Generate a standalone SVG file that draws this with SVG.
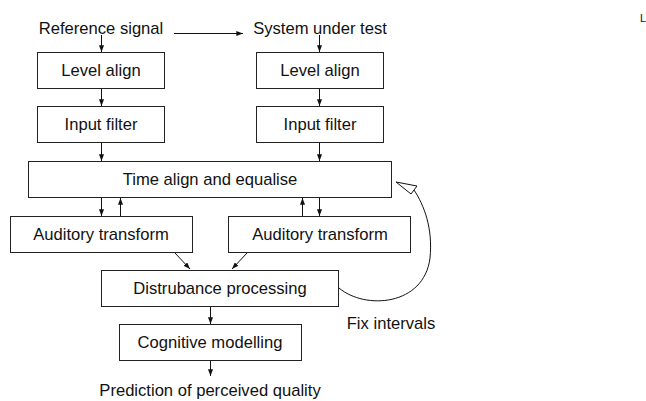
<svg xmlns="http://www.w3.org/2000/svg" width="646" height="401" viewBox="0 0 646 401">
  <style>
    text { font-family: "Liberation Sans", Arial, Helvetica, sans-serif; font-size: 16.6px; fill: #111; text-anchor: middle; }
    .box rect { fill: #fff; stroke: #222; stroke-width: 1; }
    .conn line, .conn path { stroke: #111; stroke-width: 1; fill: none; }
    .conn line { marker-end: url(#tip); }
  </style>
  <defs>
    <marker id="tip" viewBox="0 0 8 6" refX="8" refY="3" markerWidth="7" markerHeight="5" markerUnits="userSpaceOnUse" orient="auto">
      <path d="M0,0 L8,3 L0,6 Z" fill="#111"/>
    </marker>
  </defs>

  <rect width="646" height="401" fill="#fff"/>

  <!-- inputs -->
  <g id="ref-signal"><text x="101" y="34">Reference signal</text></g>
  <g id="sut"><text x="320" y="34">System under test</text></g>

  <!-- left chain -->
  <g id="level-align-ref" class="box"><rect x="37.5" y="52.5" width="127" height="36"/><text x="101" y="76">Level align</text></g>
  <g id="input-filter-ref" class="box"><rect x="37.5" y="106.5" width="127" height="36"/><text x="101" y="130">Input filter</text></g>

  <!-- right chain -->
  <g id="level-align-sut" class="box"><rect x="256.5" y="52.5" width="127" height="36"/><text x="320" y="76">Level align</text></g>
  <g id="input-filter-sut" class="box"><rect x="256.5" y="106.5" width="127" height="36"/><text x="320" y="130">Input filter</text></g>

  <g id="time-align" class="box"><rect x="28.5" y="161.5" width="363" height="36"/><text x="210" y="185">Time align and equalise</text></g>

  <g id="auditory-ref" class="box"><rect x="10.5" y="216.5" width="182" height="36"/><text x="101" y="240">Auditory transform</text></g>
  <g id="auditory-sut" class="box"><rect x="228.5" y="216.5" width="182" height="36"/><text x="320" y="240">Auditory transform</text></g>

  <g id="disturbance" class="box"><rect x="101.5" y="270.5" width="237" height="36"/><text x="220" y="294">Distrubance processing</text></g>
  <g id="cognitive" class="box"><rect x="119.5" y="324.5" width="182" height="36"/><text x="210" y="348">Cognitive modelling</text></g>

  <g id="prediction"><text x="210" y="396">Prediction of perceived quality</text></g>
  <g id="fix-intervals"><text x="391" y="329">Fix intervals</text></g>
  <g id="corner-mark"><text x="643" y="22" style="font-size:11px">L</text></g>

  <g id="connectors" class="conn">
    <line x1="174" y1="33.5" x2="243" y2="33.5"/>
    <line x1="101.5" y1="35" x2="101.5" y2="52"/>
    <line x1="319.5" y1="35" x2="319.5" y2="52"/>
    <line x1="101.5" y1="89" x2="101.5" y2="106"/>
    <line x1="319.5" y1="89" x2="319.5" y2="106"/>
    <line x1="101.5" y1="143" x2="101.5" y2="161"/>
    <line x1="319.5" y1="143" x2="319.5" y2="161"/>
    <line x1="101.5" y1="198" x2="101.5" y2="216"/>
    <line x1="120.5" y1="216" x2="120.5" y2="198"/>
    <line x1="302.5" y1="216" x2="302.5" y2="198"/>
    <line x1="319.5" y1="198" x2="319.5" y2="216"/>
    <line x1="175" y1="253" x2="190" y2="269"/>
    <line x1="247" y1="253" x2="232" y2="269"/>
    <line x1="210.5" y1="361" x2="210.5" y2="376"/>
    <line x1="210.5" y1="307" x2="210.5" y2="324"/>
    <!-- feedback loop back to time alignment -->
    <path d="M339,288 C365,310 424,306 430,258 C433,228 424,205 414,190"/>
    <polygon points="396,182 411,194 417,186" fill="#fff" stroke="#111" stroke-width="1"/>
  </g>
</svg>
